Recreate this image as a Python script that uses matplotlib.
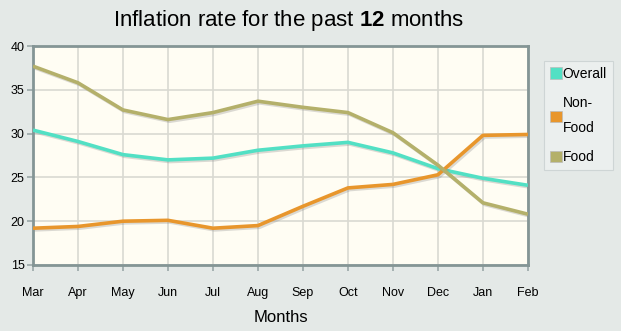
# inflation chart: overall / non-food / food over the past 12 months

import matplotlib
matplotlib.use("Agg")
import matplotlib.pyplot as plt
import matplotlib.patheffects as pe
from matplotlib.patches import Patch

plt.rcParams['font.family'] = ['Liberation Sans', 'DejaVu Sans']
plt.rcParams['mathtext.fontset'] = 'custom'
plt.rcParams['mathtext.rm'] = 'Liberation Sans'
plt.rcParams['mathtext.bf'] = 'Liberation Sans:bold'

months = ["Mar", "Apr", "May", "Jun", "Jul", "Aug", "Sep", "Oct", "Nov", "Dec", "Jan", "Feb"]
overall = [30.4, 29.1, 27.6, 27.0, 27.2, 28.1, 28.6, 29.0, 27.8, 26.0, 24.9, 24.1]
non_food = [19.2, 19.4, 20.0, 20.1, 19.2, 19.5, 21.7, 23.8, 24.2, 25.3, 29.8, 29.9]
food = [37.7, 35.8, 32.7, 31.6, 32.4, 33.7, 33.0, 32.4, 30.1, 26.4, 22.1, 20.8]

series = [("Overall", overall, "#52e0c4"),
          ("Non-\nFood", non_food, "#e8962c"),
          ("Food", food, "#b4b06a")]

fig = plt.figure(figsize=(6.21, 3.31), dpi=100, facecolor="#e4e9e7")
ax = fig.add_axes([0.0531, 0.1994, 0.797, 0.6616], facecolor="#fffdf3")

x = range(len(months))
shadow = [pe.SimpleLineShadow(offset=(1.2, -1.2), shadow_color="#888888", alpha=0.3), pe.Normal()]
for name, vals, col in series:
    ax.plot(x, vals, color=col, lw=2.6, solid_capstyle="butt", path_effects=shadow, zorder=3)

ax.set_xlim(0, len(months) - 1)
ax.set_ylim(15, 40)
ax.set_xticks(list(x))
ax.set_xticklabels(months)
ax.set_yticks([15, 20, 25, 30, 35, 40])
ax.grid(True, color="#d9d9d2", lw=1.2)
ax.set_axisbelow(True)
for s in ax.spines.values():
    s.set_color("#849595")
    s.set_linewidth(2)
ax.tick_params(axis="x", length=4, width=1.2, color="#9aa8a8", labelsize=9, pad=12)
ax.tick_params(axis="y", length=4, width=1.2, color="#9aa8a8", labelsize=9, pad=2)

fig.text(0.464, 0.938, r"Inflation rate for the past $\mathbf{12}$ months",
         ha="center", va="center", fontsize=16)
fig.text(0.452, 0.04, "Months", ha="center", va="center", fontsize=12)

handles = [Patch(facecolor=c, edgecolor="#bbbbbb", lw=0.5) for _, _, c in series]
leg = fig.legend(handles, [n for n, _, _ in series], loc="upper left",
                 bbox_to_anchor=(0.876, 0.815), fontsize=10, frameon=True,
                 handlelength=0.9, handleheight=0.9, handletextpad=0.05,
                 borderpad=0.4, labelspacing=1.1, fancybox=False, borderaxespad=0)
for t in leg.get_texts():
    t.set_linespacing(2.0)
leg.get_frame().set_facecolor("#eef1f0")
leg.get_frame().set_edgecolor("#c8d0d0")
leg.get_frame().set_linewidth(0.8)

fig.savefig("out.png", dpi=100, facecolor=fig.get_facecolor())
